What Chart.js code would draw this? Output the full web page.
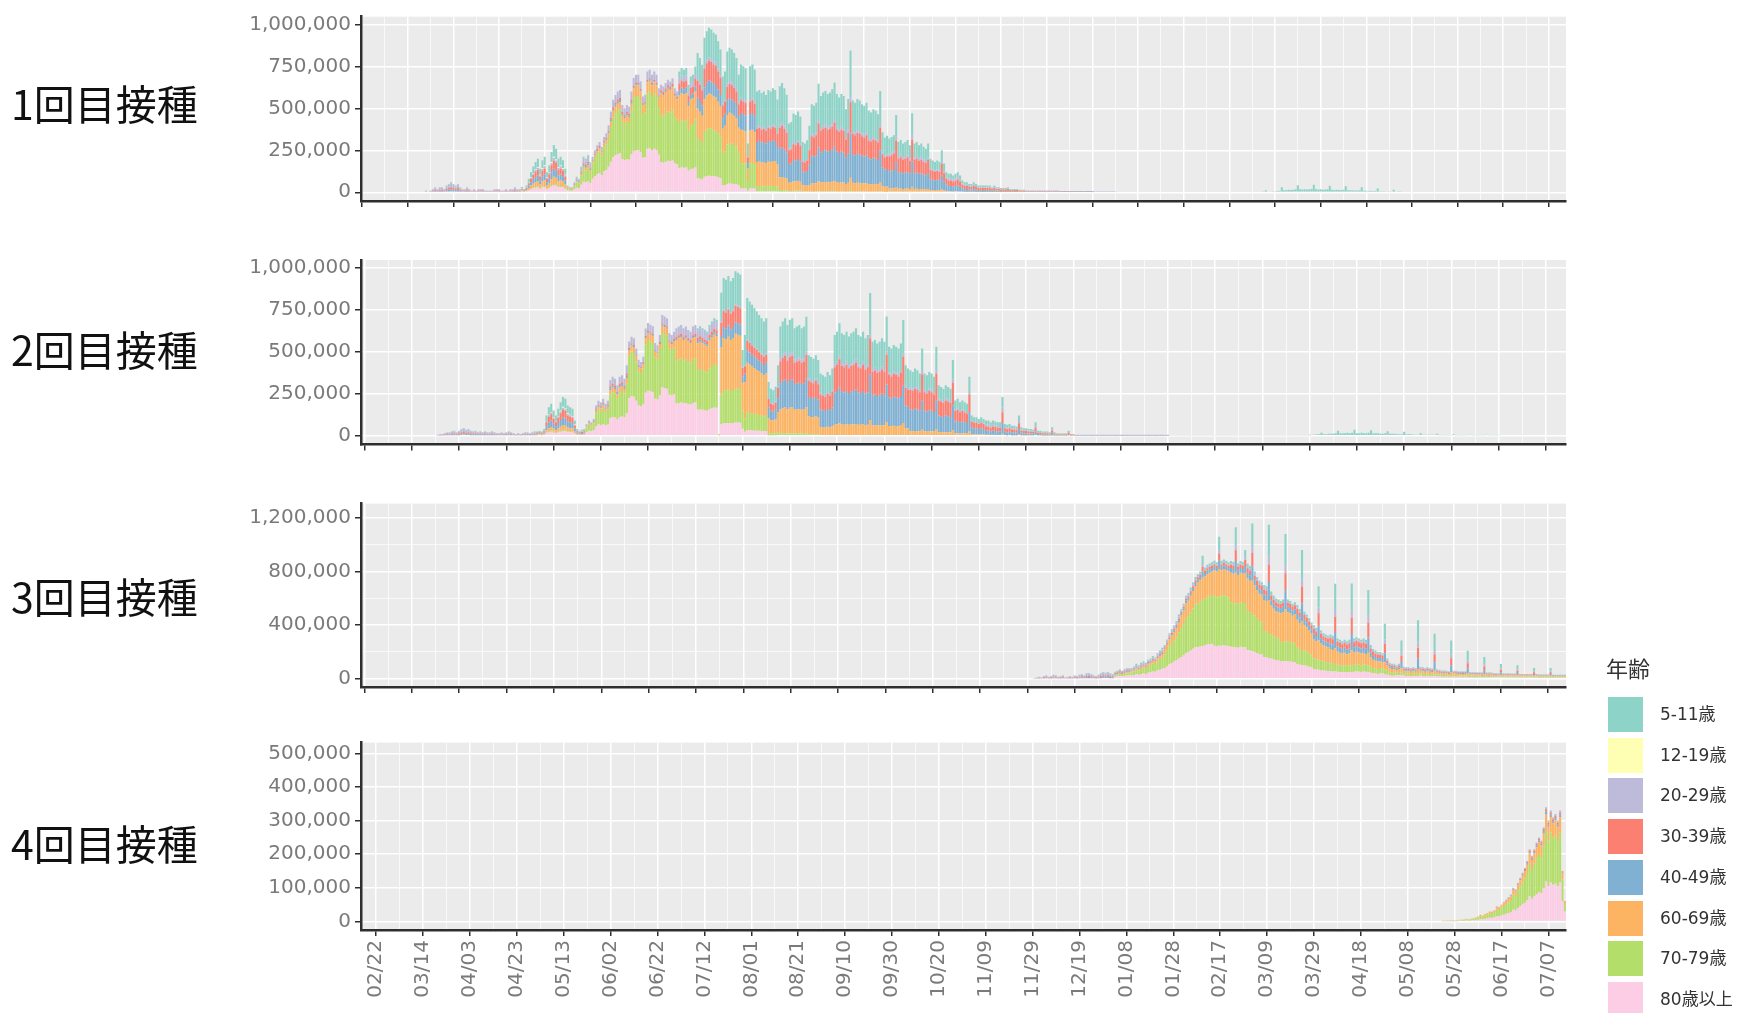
<!DOCTYPE html>
<html lang="ja">
<head>
<meta charset="utf-8">
<title>年齢別 新型コロナワクチン接種回数（日別）</title>
<script src="https://cdn.jsdelivr.net/npm/chart.js@4.4.1/dist/chart.umd.min.js"></script>
<style>
  html, body { margin: 0; padding: 0; background: #fff; }
  body { position: relative; width: 1743px; height: 1013px; overflow: hidden;
         font-family: "DejaVu Sans", "Noto Sans CJK JP", sans-serif; }
  canvas.panel { position: absolute; left: 0; }
  .dose { position: absolute; left: 11px; font-family: "Noto Sans CJK JP", sans-serif;
          font-size: 41px; line-height: 42px; color: #111; white-space: nowrap; }
  #legend { position: absolute; left: 1606px; top: 652px; color: #333; }
  #legend .title { position: absolute; left: 0; top: 0; font-family: "Noto Sans CJK JP", sans-serif;
                   font-size: 22px; line-height: 30px; white-space: nowrap; }
  #legend .key { position: absolute; left: 2px; width: 35px; height: 35px; }
  #legend .klabel { position: absolute; left: 54px; font-size: 17px; line-height: 35px; white-space: nowrap;
                    font-family: "DejaVu Sans", "Noto Sans CJK JP", sans-serif; }
</style>
</head>
<body>
<canvas id="c1" class="panel" width="1743" height="232" style="top:0px"></canvas>
<canvas id="c2" class="panel" width="1743" height="236" style="top:236px"></canvas>
<canvas id="c3" class="panel" width="1743" height="236" style="top:478px"></canvas>
<canvas id="c4" class="panel" width="1743" height="297" style="top:716px"></canvas>
<div id="titles"></div>
<div id="legend"></div>
<script>
// ---- labels and styling constants -------------------------------------
const AXIS_ORIGIN = '2021-02-22';
const AGE_GROUPS = ['5-11歳', '12-19歳', '20-29歳', '30-39歳', '40-49歳', '60-69歳', '70-79歳', '80歳以上'];
const AGE_COLORS = ['#8DD3C7', '#FFFFB3', '#BEBADA', '#FB8072', '#80B1D3', '#FDB462', '#B3DE69', '#FCCDE5'];
const DOSE_TITLES = ['1回目接種', '2回目接種', '3回目接種', '4回目接種'];
const LEGEND_TITLE = '年齢';
const X_TICK_LABELS = ['02/22', '03/14', '04/03', '04/23', '05/13', '06/02', '06/22', '07/12', '08/01', '08/21',
  '09/10', '09/30', '10/20', '11/09', '11/29', '12/19', '01/08', '01/28', '02/17', '03/09',
  '03/29', '04/18', '05/08', '05/28', '06/17', '07/07'];
const Y_TICKS_DOSE1 = [0, 250000, 500000, 750000, 1000000];
const Y_TICKS_DOSE2 = [0, 250000, 500000, 750000, 1000000];
const Y_TICKS_DOSE3 = [0, 400000, 800000, 1200000];
const Y_TICKS_DOSE4 = [0, 100000, 200000, 300000, 400000, 500000];

// ---- daily doses by age group, in thousands ------------------------------
// 1st dose, daily series beginning 2021-03-22
const dose1Start = '2021-03-22';
const dose1_80plus = [1,0,1,2,3,2,3,3,2,4,5,6,5,4,5,3,2,2,3,2,1,2,1,2,2,2,1,1,1,1,2,2,2,1,1,2,1,2,2,3,2,2,
  5,3,6,12,18,23,27,30,21,29,32,18,24,36,42,39,30,32,29,21,
  12,9,9,18,27,24,45,63,60,66,54,
  80,95,106,114,103,125,133,152,182,209,220,228,232,198,190,198,194,228,
  245,252,252,238,205,209,259,263,252,259,252,223,
  179,176,182,188,185,190,174,168,
  144,148,146,148,128,138,140,150,
  83,80,76,92,96,98,97,95,94,90,85,
  41,43,50,52,51,50,48,42,
  23,23,22,9,23,23,22,
  6,6,6,6,6,6,6,6,6,6];
const dose1_70s = [0,0,0,0,0,0,0,0,0,0,0,0,0,0,0,0,0,0,0,0,0,0,0,0,0,0,0,0,0,0,0,0,0,0,0,0,0,0,0,0,0,0,
  1,1,1,2,4,5,5,6,4,6,6,4,5,7,8,8,6,6,6,4,
  14,11,11,21,32,28,53,74,70,77,63,
  90,108,120,129,116,142,151,172,206,237,249,258,262,224,215,224,219,258,
  313,322,322,304,262,267,331,336,322,331,322,285,
  282,277,286,295,290,299,273,264,
  274,281,277,281,243,262,266,285,
  241,232,220,267,278,284,281,276,273,261,247,
  193,202,235,241,238,232,224,196,
  152,150,148,58,150,152,146,
  30,31,30,30,29,31,30,31,31,28,
  13,13,12,12,8,8,9,9,10,9,6,6,6,
  4,5,5,5,7,6,6,6,6,6,6,7,6,6,6,6,5,6,9,6,5,6,6,5,5,5,5,5,5,5,5,6,4,3,3];
const dose1_60s = [0,0,0,0,0,0,0,0,0,0,0,0,0,0,0,0,0,0,0,0,0,0,0,0,0,0,0,0,0,0,0,0,0,0,0,0,0,0,0,0,0,0,
  5,3,6,12,18,23,27,30,21,29,32,18,24,36,42,39,30,32,29,21,
  3,2,2,5,7,6,12,17,16,18,14,
  15,18,20,21,19,23,25,28,34,39,41,42,43,36,35,36,36,42,
  61,63,63,59,51,52,65,66,63,65,63,56,
  128,126,130,134,132,136,124,120,
  158,163,161,163,141,152,154,165,
  174,168,160,193,202,206,204,200,197,189,179,
  145,151,176,181,179,174,168,147,
  198,195,192,75,195,198,190,
  144,146,142,144,139,146,144,149,146,132,
  76,78,74,70,49,50,56,55,58,54,36,35,37,
  36,48,47,49,59,52,54,55,53,54,56,59,53,51,53,52,45,50,77,50,49,50,50,48,47,49,44,43,45,44,42,55,32,30,31,
  22,23,24,32,21,22,20,21,22,20,33,20,21,20,20,19,18,20,14,13,13,13,13,18,12,8,
  6,6,5,6,6,5,4,3,3,3,3,3,3,2,2,2,2,2,2,2,2,2,2,1,1,1,2,1,1,1,1,1,1,1];
const dose1_40s = [2,0,2,4,6,4,6,6,4,8,10,12,10,8,10,6,4,4,6,4,2,4,2,4,4,4,2,2,2,2,4,4,4,2,2,4,2,4,4,6,4,4,
  5,3,7,14,20,26,31,34,24,32,36,20,27,41,48,44,34,36,32,24,
  2,2,2,3,5,4,8,11,10,11,9,
  4,5,6,6,5,7,7,8,10,11,12,12,12,10,10,10,10,12,
  7,7,7,7,6,6,7,7,7,7,7,6,
  6,6,7,7,7,7,6,6,
  29,30,29,30,26,28,28,30,
  66,64,61,74,77,78,78,76,75,72,68,
  69,72,84,86,85,83,80,70,
  99,98,96,38,98,99,95,
  120,122,118,120,116,122,120,124,122,110,
  170,176,167,157,111,113,127,124,130,122,81,78,84,
  124,164,161,167,202,180,186,189,183,186,192,205,183,177,183,180,155,174,264,171,167,174,171,164,161,167,152,149,155,152,146,189,112,102,105,
  102,106,109,147,96,99,93,96,99,90,150,93,96,90,93,86,83,93,64,61,58,61,58,80,54,38,
  31,31,28,31,34,28,20,17,17,14,14,17,14,11,11,11,11,11,11,8,11,8,8,7,7,7,8,6,6,6,6,4,4,4,
  3,3,3,3,3,3,3,3,3,3,3,3,3,3,3,2,2,2,2,2,2,2,2,2,2,2,2,2,2,2];
const dose1_30s = [2,0,2,4,6,4,6,6,4,8,10,12,10,8,10,6,4,4,6,4,2,4,2,4,4,4,2,2,2,2,4,4,4,2,2,4,2,4,4,6,4,4,
  5,3,7,14,20,26,31,34,24,32,36,20,27,41,48,44,34,36,32,24,
  2,1,1,2,4,3,6,8,8,9,7,
  4,5,6,6,5,7,7,8,10,11,12,12,12,10,10,10,10,12,
  7,7,7,7,6,6,7,7,7,7,7,6,
  13,13,13,13,13,14,12,12,
  43,44,44,44,38,41,42,45,
  100,96,91,110,115,118,116,114,113,108,102,
  69,72,84,86,85,83,80,70,
  76,75,74,29,75,76,73,
  78,79,77,78,75,79,78,81,79,72,
  126,130,124,116,82,84,94,92,96,90,60,58,62,
  88,117,114,119,143,128,132,134,130,132,136,145,130,125,130,128,110,123,187,121,119,123,121,117,114,119,108,106,110,108,103,134,79,73,75,
  90,92,95,129,84,87,81,84,87,78,132,81,84,78,81,76,73,81,56,53,50,53,50,70,48,34,
  33,33,30,33,36,30,21,18,18,15,15,18,15,12,12,12,12,12,12,9,12,9,9,8,8,8,9,6,6,6,6,5,5,5,
  3,3,3,3,3,3,3,3,3,3,3,3,3,3,3,2,2,2,2,2,2,2,2,2,2,2,2,2,2,2];
const dose1_20s = [4,0,4,8,12,8,12,12,8,16,20,24,20,16,20,12,8,8,12,8,4,8,4,8,8,8,4,4,4,4,8,8,8,4,4,8,4,8,8,12,8,8,
  2,1,2,5,7,9,11,12,8,11,13,7,10,14,17,16,12,13,11,8,
  5,4,4,8,12,10,20,27,26,29,23,
  17,20,22,24,22,26,28,32,38,44,46,48,49,42,40,42,41,48,
  48,49,49,46,40,41,50,51,49,50,49,43,
  32,32,33,34,33,34,31,30,
  29,30,29,30,26,28,28,30,
  17,16,15,18,19,20,19,19,19,18,17,
  14,14,17,17,17,17,16,14,
  15,15,15,6,15,15,15,
  12,12,12,12,12,12,12,12,12,11,
  19,20,19,17,12,13,14,14,14,14,9,9,9,
  12,16,16,16,20,17,18,18,18,18,19,20,18,17,18,17,15,17,26,17,16,17,17,16,16,16,15,14,15,15,14,18,11,10,10,
  16,17,17,23,15,16,15,15,16,14,24,15,15,14,15,14,13,15,10,10,9,10,9,13,9,6,
  13,13,12,13,14,12,8,7,7,6,6,7,6,5,5,5,5,5,5,4,5,4,4,3,3,3,4,2,2,2,2,2,2,2,
  4,4,4,4,4,4,4,4,4,4,4,4,4,4,4,2,2,2,2,2,2,2,2,2,2,2,2,2,2,2,2,2,2,2,2,2,2,2,2,2];
const dose1_12to19 = [0,0,0,0,0,0,0,0,0,0,0,0,0,0,0,0,0,0,0,0,0,0,0,0,0,0,0,0,0,0,0,0,0,0,0,0,0,0,0,0,0,0,
  1,0,1,2,2,3,4,4,3,4,4,2,3,5,6,5,4,4,4,3];
const dose1_5to11 = [1,0,1,2,3,2,3,3,2,4,5,6,5,4,5,3,2,2,3,2,1,2,1,2,2,2,1,1,1,1,2,2,2,1,1,2,1,2,2,3,2,2,
  8,5,10,20,30,38,45,50,35,48,52,30,40,60,70,65,50,52,48,35,
  2,2,2,3,5,4,8,11,10,11,9,
  0,0,0,0,0,0,0,0,0,0,0,0,0,0,0,0,0,0,0,0,0,0,0,0,0,0,0,0,0,0,0,0,0,0,0,0,0,0,
  43,44,44,44,38,41,42,45,
  149,144,137,166,173,176,175,171,169,162,153,
  159,166,193,198,196,191,184,161,
  198,195,192,75,195,198,190,
  210,214,207,210,203,214,210,217,214,193,
  227,234,223,209,148,151,169,166,173,162,108,104,112,
  132,175,172,178,215,191,198,201,195,198,205,218,195,188,195,191,165,185,281,182,178,185,182,175,172,178,162,158,165,162,155,201,119,109,112,
  90,92,95,129,84,87,81,84,87,78,132,81,84,78,81,76,73,81,56,53,50,53,50,70,48,34,
  27,27,25,27,30,25,17,15,15,12,12,15,12,10,10,10,10,10,10,7,10,7,7,6,6,6,7,5,5,5,5,3,3,3];
const dose1_5to11_2022Start = '2022-03-24';
const dose1_5to11_2022 = [3,12,5,5,6,6,8,9,30,12,14,15,14,15,18,42,18,17,18,17,18,20,45,18,17,18,15,17,18,
  39,15,14,15,14,14,15,36,12,12,12,11,11,12,30,9,9,8,9,8,9,23,6,6,6,5,6,5,15,5,3,3];

// 2nd dose, daily series beginning 2021-03-24
const dose2Start = '2021-03-24';
const dose2_80plus = [0,1,1,1,2,2,2,3,3,2,3,4,5,4,4,3,3,3,2,3,2,3,2,2,3,2,2,2,2,2,2,3,2,2,1,2,1,2,2,2,2,2,3,
  3,4,3,5,14,20,23,18,14,19,24,28,26,22,20,19,11,5,4,4,5,
  22,29,26,32,58,67,64,70,61,67,106,112,109,96,112,115,109,134,
  224,236,232,208,180,176,188,256,268,264,260,220,216,240,288,284,280,244,240,248,
  192,195,198,192,195,189,186,195,198,
  154,156,154,151,149,158,163,168,166,2,
  68,75,74,76,74,75,78,78,77,41,
  24,33,32,31,30,30,29,28,27,28,
  3,3,3,3,4];
const dose2_70s = [0,0,0,0,0,0,0,0,0,0,0,0,0,0,0,0,0,0,0,0,0,0,0,0,0,0,0,0,0,0,0,0,0,0,0,0,0,0,0,0,0,0,0,
  1,1,1,1,4,5,6,5,4,5,6,7,7,5,5,5,3,1,1,1,1,
  29,38,34,42,76,88,84,92,80,88,139,147,143,126,147,151,143,176,
  252,266,261,234,203,198,212,288,302,297,293,248,243,270,324,320,315,275,270,279,
  256,260,264,256,260,252,248,260,264,
  237,241,237,233,229,244,252,259,255,4,
  179,197,195,200,193,197,206,204,202,107,
  78,107,104,101,99,96,94,91,88,91,
  13,11,11,12,17,
  13,14,14,13,14,14,13,13,13,13,13,14,10,9,9,10,9];
const dose2_60s = [0,0,0,0,0,0,0,0,0,0,0,0,0,0,0,0,0,0,0,0,0,0,0,0,0,0,0,0,0,0,0,0,0,0,0,0,0,0,0,0,0,0,0,
  3,4,3,5,14,20,23,18,14,19,24,28,26,22,20,19,11,5,4,4,5,
  6,7,6,8,14,17,16,18,15,17,26,28,27,24,28,29,27,34,
  34,35,35,31,27,26,28,38,40,40,39,33,32,36,43,43,42,37,36,37,
  122,124,125,122,124,120,118,124,125,
  160,163,160,158,155,165,170,175,173,3,
  281,310,307,314,304,310,323,320,317,168,
  216,295,288,281,274,266,259,252,245,252,
  90,78,76,81,118,
  143,150,154,145,152,154,141,143,145,141,143,156,106,103,101,106,99,
  52,50,49,53,50,56,
  66,68,74,67,66,68,65,67,68,70,66,65,68,64,66,94,62,63,61,62,64,62,78,58,57,59,58,57,61,76,46,44,
  27,27,28,27,26,36,26,25,27,26,25,37,21,20,20,21,20,20,32,15,15,14,15,14,13,25,8,8,8,7,8,7,
  5,5,4,5,4,4,4,12,4,3,4,3,3,3,6,3,2,2,2,2,2,4,2,2,1,1,1,1,3,1,1,1,1,1,1,2,1,1];
const dose2_40s = [0,1,2,2,3,4,4,5,6,4,6,8,9,7,8,6,5,6,4,5,4,5,4,4,5,4,3,3,4,3,4,5,4,3,2,3,2,3,4,4,3,4,5,
  5,6,5,8,24,34,38,30,24,32,40,46,44,36,34,32,18,8,6,7,8,
  2,3,2,3,5,6,6,7,6,6,10,11,10,9,11,11,10,13,
  6,6,6,5,5,4,5,6,7,7,7,6,5,6,7,7,7,6,6,6,
  6,7,7,6,7,6,6,7,7,
  13,13,13,13,12,13,14,14,14,0,
  60,66,65,67,64,66,69,68,67,36,
  54,74,72,70,68,67,65,63,61,63,
  64,56,54,58,84,
  156,163,168,158,166,168,154,156,158,154,156,170,115,113,110,115,108,
  104,101,98,106,101,112,
  192,198,214,195,192,198,189,195,198,205,192,189,198,186,192,272,179,182,176,179,186,179,227,170,166,173,170,166,176,221,134,128,
  129,125,132,129,122,172,122,119,125,122,116,175,99,96,92,99,96,92,149,69,73,66,69,66,63,116,40,36,36,33,36,33,
  25,25,22,25,24,22,22,64,20,18,20,17,17,15,34,14,13,13,11,11,10,22,8,8,7,7,7,6,14,6,4,4,4,4,4,8,3,3,
  1,1,1,1,1,1,1,1,1,1,1,1,1,1,1,1,1,1,1,1,1,1,1,1,1,1,1,1,1,1,1,1,1,1,1,1,1,1,1,1];
const dose2_30s = [0,1,2,2,3,4,4,5,6,4,6,8,9,7,8,6,5,6,4,5,4,5,4,4,5,4,3,3,4,3,4,5,4,3,2,3,2,3,4,4,3,4,5,
  5,6,5,8,24,34,38,30,24,32,40,46,44,36,34,32,18,8,6,7,8,
  2,3,2,3,5,6,6,7,6,6,10,11,10,9,11,11,10,13,
  6,6,6,5,5,4,5,6,7,7,7,6,5,6,7,7,7,6,6,6,
  13,13,13,13,13,13,12,13,13,
  19,20,19,19,19,20,20,21,21,0,
  85,94,93,95,92,94,98,97,96,51,
  42,57,56,55,53,52,50,49,48,49,
  48,42,41,44,63,
  130,136,140,132,138,140,128,130,132,128,130,142,96,94,92,96,90,
  89,86,84,91,86,96,
  150,155,168,153,150,155,148,153,155,160,150,148,155,145,150,213,140,143,138,140,145,140,178,133,130,135,133,130,138,173,105,100,
  117,114,120,117,111,156,111,108,114,111,105,159,90,87,84,90,87,84,135,63,66,60,63,60,57,105,36,33,33,30,33,30,
  25,25,22,25,24,22,22,64,20,18,20,17,17,15,34,14,13,13,11,11,10,22,8,8,7,7,7,6,14,6,4,4,4,4,4,8,3,3,
  1,1,1,1,1,1,1,1,1,1,1,1,1,1,1,1,1,1,1,1,1,1,1,1,1,1,1,1,1,1,1,1,1,1,1,1,1,1,1,1];
const dose2_20s = [0,2,4,4,6,8,8,10,12,8,12,16,18,14,16,12,10,12,8,10,8,10,8,8,10,8,6,6,8,6,8,10,8,6,4,6,4,6,8,8,6,8,10,
  1,2,1,2,6,9,10,8,6,8,10,12,11,9,9,8,5,2,2,2,2,
  8,11,10,12,22,25,24,26,23,25,40,42,41,36,42,43,41,50,
  39,41,41,36,32,31,33,45,47,46,46,39,38,42,50,50,49,43,42,43,
  51,52,53,51,52,50,50,52,53,
  45,46,45,44,43,46,48,49,48,1,
  9,9,9,10,9,9,10,10,10,5,
  6,8,8,8,8,7,7,7,7,7,
  6,6,5,6,8,
  20,20,21,20,21,21,19,20,20,19,20,21,14,14,14,14,14,
  11,11,11,11,11,12,
  18,19,20,18,18,19,18,18,19,19,18,18,19,17,18,26,17,17,17,17,17,17,21,16,16,16,16,16,17,21,13,12,
  16,15,16,16,15,21,15,14,15,15,14,21,12,12,11,12,12,11,18,8,9,8,8,8,8,14,5,4,4,4,4,4,
  11,11,10,11,10,10,10,28,8,8,8,7,7,7,14,6,5,5,5,5,4,10,4,4,3,3,3,2,6,2,2,2,2,2,2,4,1,1,
  3,3,3,3,3,3,3,3,3,3,3,3,3,3,3,3,3,3,3,3,3,3,3,3,3,3,3,3,3,3,3,3,3,3,3,3,3,3,3,3,3,3,3,3,3,3,3,3,3,3,
  2,2,2,2,2,2,2,2,2,2,2,2,2,2,2,2,2,2,2,2,2,2,2,2,2,2,2,2,2,2,2,2,2,2,2,2,2,2,2,2,2,2,2,2,2,2,2,2,2,2];
const dose2_12to19 = [0,0,0,0,0,0,0,0,0,0,0,0,0,0,0,0,0,0,0,0,0,0,0,0,0,0,0,0,0,0,0,0,0,0,0,0,0,0,0,0,0,0,0,
  0,0,0,1,2,3,4,3,2,3,4,5,4,4,3,3,2,1,0,1,1];
const dose2_5to11 = [0,1,1,1,2,2,2,3,3,2,3,4,5,4,4,3,3,3,2,3,2,3,2,2,3,2,2,2,2,2,2,3,2,2,1,2,1,2,2,2,2,2,3,
  7,7,7,10,32,45,48,38,32,42,52,58,58,46,45,42,22,10,7,9,10,
  0,0,0,0,0,0,0,0,0,0,0,0,0,0,0,0,0,0,0,0,0,0,0,0,0,0,0,0,0,0,0,0,0,0,0,0,0,0,0,0,0,0,0,0,0,0,0,
  13,13,13,13,12,13,14,14,14,0,
  170,188,186,190,184,188,196,194,192,102,
  180,246,240,234,228,222,216,210,204,210,
  96,84,81,87,126,
  189,197,203,191,200,203,186,189,191,186,189,206,139,136,133,139,131,
  115,112,109,118,112,124,
  174,180,194,177,174,180,171,177,180,186,174,171,180,168,174,245,162,165,158,162,168,162,206,153,151,157,153,151,158,199,122,116,
  101,99,104,101,96,135,96,94,99,96,91,138,78,75,73,78,75,73,117,55,57,52,55,52,49,91,31,29,29,26,29,26,
  24,24,22,24,23,22,22,62,18,18,18,16,16,15,32,13,12,12,11,11,9,22,8,8,7,7,7,5,13,5,4,4,4,4,4,8,2,2];
const dose2_5to11_2022Start = '2022-03-29';
const dose2_5to11_2022 = [3,5,6,8,9,18,8,9,11,12,12,14,30,14,15,15,17,15,17,36,15,15,17,15,15,17,33,14,
  14,14,12,12,14,27,11,11,11,9,9,9,23,8,8,8,6,6,6,15,5,5,5,5,5,5,12,3,3,3,3,3,3,9,2,
  2,2,2,2,2,6,2,2,2,2,2,2,5,2,2,2,2,2];

// 3rd dose, daily series beginning 2021-12-02
const dose3Start = '2021-12-02';
const dose3_80plus = [1,1,2,1,2,3,2,2,3,3,2,2,3,
  1,2,2,2,3,2,3,4,3,4,4,4,3,2,3,4,5,5,5,4,4,
  15,18,21,18,21,24,24,24,27,33,30,36,39,36,45,48,54,51,61,67,74,
  80,93,109,118,128,138,154,161,174,192,198,211,223,236,234,240,245,249,255,258,261,
  246,244,246,246,249,246,244,238,235,234,232,238,235,235,215,210,205,200,190,183,180,
  161,159,154,150,143,138,136,128,130,130,130,128,123,125,110,104,102,100,96,90,84,
  72,68,67,65,61,59,58,56,54,53,51,49,48,49,48,49,50,51,53,51,49,54,52,49,45,40,38,36,
  40,38,34,30,24,22,22,25,28,26,23,21,21,20,21,20,21,23,21,20,21,20,19,19,18,16,15,15,
  15,14,15,15,15,14,14,14,14,13,13,13,12,12,12,11,11,11,11,11,11,11,10,10,10,10,10,10,
  10,10,9,9,9,9,9,9,9,8,9,8,8,8,8,8,8,8,8,8,8,8,7];
const dose3_70s = [0,0,0,0,0,0,0,0,0,0,0,0,0,
  0,0,0,0,0,0,0,0,0,0,0,0,0,0,0,0,0,0,0,0,0,
  10,12,14,12,14,16,16,24,27,33,30,36,39,36,50,54,61,58,68,76,83,
  100,116,136,148,160,172,192,218,235,260,269,286,302,319,328,336,342,349,357,361,365,
  370,365,370,370,374,370,365,334,331,329,327,334,331,331,292,286,279,272,258,248,245,
  196,193,188,182,174,168,165,145,148,148,148,145,140,143,121,114,112,110,106,99,92,
  80,76,74,72,68,66,64,59,58,56,54,52,50,52,50,52,53,54,56,54,52,54,52,49,45,40,38,36,
  40,38,34,30,24,22,22,20,22,21,18,17,17,16,17,16,17,18,17,16,17,16,15,15,14,13,12,12,
  12,11,12,12,12,11,11,11,11,10,10,10,10,10,10,9,9,9,9,9,8,8,8,8,8,8,8,8,
  8,8,7,7,7,7,7,7,7,7,7,7,7,7,7,7,6,6,6,6,6,6,6];
const dose3_60s = [0,0,0,0,0,0,0,0,0,0,0,0,0,
  0,0,0,0,0,0,0,0,0,0,0,0,0,0,0,0,0,0,0,0,0,
  5,6,7,6,7,8,8,8,9,11,10,12,13,12,17,18,20,19,23,25,28,
  38,44,51,56,60,65,72,94,101,112,115,122,130,137,156,160,168,166,170,172,174,
  194,191,203,194,196,194,191,220,218,229,215,220,218,223,241,235,247,224,213,204,202,
  231,228,245,215,205,198,195,215,218,243,218,215,207,211,209,198,217,190,182,171,160,
  140,133,146,126,119,116,112,106,102,119,96,93,90,93,84,87,110,90,93,90,87,84,81,96,70,62,59,56,
  50,48,55,38,30,28,28,20,22,30,18,17,17,16,17,16,35,18,17,16,17,16,15,28,14,13,12,12,
  12,11,23,12,12,11,11,11,11,18,10,10,10,10,10,9,15,9,9,9,8,8,8,12,8,8,8,8,
  8,8,10,7,7,7,7,7,7,9,7,7,7,7,7,7,8,6,6,6,6,6,6];
const dose3_40s = [1,2,3,2,4,5,3,4,6,5,3,4,5,
  2,3,4,3,5,4,6,7,5,8,8,7,5,4,6,8,10,9,10,8,7,
  5,6,7,6,7,8,8,4,5,6,5,6,7,6,6,6,7,6,8,8,9,
  8,9,10,11,12,13,14,16,17,19,19,20,22,23,23,24,45,25,26,26,26,
  26,26,62,26,27,26,26,35,35,88,34,35,35,53,43,42,109,40,38,37,36,
  42,41,136,39,37,36,35,41,41,139,41,41,39,40,44,42,131,40,38,36,34,
  44,42,105,40,37,36,35,43,42,120,39,38,36,38,36,38,121,39,40,39,38,39,38,113,33,29,27,26,
  24,23,68,18,14,13,13,10,11,47,9,9,9,8,9,8,79,9,9,8,9,8,8,60,7,7,6,6,
  6,6,51,6,6,6,6,6,6,37,5,5,5,5,5,5,28,5,5,5,4,4,4,18,4,4,4,4,
  4,4,17,4,4,4,4,4,4,12,4,3,3,3,3,3,13,3,3,3,3,3,3];
const dose3_30s = [1,2,3,2,4,5,3,4,6,5,3,4,5,
  2,3,4,3,5,4,6,7,5,8,8,7,5,4,6,8,10,9,10,8,7,
  5,6,7,6,7,8,8,4,5,6,5,6,7,6,6,6,7,6,8,8,9,
  8,9,10,11,12,13,14,10,11,12,13,14,14,15,16,16,37,17,17,17,17,
  18,17,54,18,18,18,17,26,26,79,26,26,26,44,34,34,101,32,30,29,29,
  35,35,130,33,31,30,30,29,30,128,30,29,28,29,39,36,126,35,34,32,29,
  36,34,97,32,31,30,29,40,38,117,36,35,34,35,36,38,121,39,40,39,38,39,38,113,33,29,27,26,
  24,23,68,18,14,13,13,10,11,47,9,9,9,8,9,8,79,9,9,8,9,8,8,60,7,7,6,6,
  6,6,51,6,6,6,6,6,6,37,5,5,5,5,5,5,28,5,5,5,4,4,4,18,4,4,4,4,
  4,4,17,4,4,4,4,4,4,12,4,3,3,3,3,3,13,3,3,3,3,3,3];
const dose3_20s = [2,4,6,4,8,10,6,8,12,10,6,8,10,
  4,6,8,6,10,8,12,14,10,16,16,14,10,8,12,16,20,18,20,16,14,
  8,9,11,9,11,12,12,10,11,13,12,14,16,14,10,11,12,11,13,15,16,
  10,12,14,15,16,17,19,10,11,12,13,14,14,15,8,8,19,8,9,9,9,
  9,9,27,9,9,9,9,9,9,36,9,9,9,18,17,17,50,16,15,15,14,
  14,14,61,13,12,12,12,6,6,55,6,6,6,6,11,10,55,10,10,9,8,
  12,11,43,11,10,10,10,10,10,49,9,9,8,9,11,12,54,12,12,12,12,12,12,50,10,9,8,8,
  10,10,33,8,6,6,6,8,9,26,7,7,7,6,7,6,42,7,7,6,7,6,6,32,6,5,5,5,
  5,4,28,5,5,4,4,4,4,20,4,4,4,4,4,4,16,4,4,4,4,4,3,10,3,3,3,3,
  3,3,9,3,3,3,3,3,3,8,3,3,3,3,3,3,7,2,2,2,2,2,2];
const dose3_12to19 = [];
const dose3_5to11 = [0,1,1,1,2,2,1,2,3,2,1,2,2,
  1,1,2,1,2,2,3,3,2,4,4,3,2,2,3,4,5,4,5,4,3,
  3,3,4,3,4,4,4,6,7,9,8,10,10,10,7,8,9,8,10,11,12,
  8,9,10,11,12,13,14,10,11,12,13,14,14,15,16,16,63,17,17,17,17,
  18,17,99,18,18,18,17,18,17,136,17,18,17,58,17,17,169,16,15,15,14,
  21,21,236,20,19,18,18,17,18,238,18,17,17,17,17,16,218,15,14,14,13,
  16,15,159,14,14,13,13,17,16,196,15,15,14,15,14,15,202,15,16,15,15,18,17,192,15,13,13,12,
  12,11,118,9,7,7,7,7,8,88,6,6,6,6,6,6,163,6,6,6,6,6,5,122,5,5,5,5,
  4,4,106,4,4,4,4,4,4,74,3,3,3,3,3,3,55,3,3,3,3,3,3,34,3,3,3,3,
  2,2,31,2,2,2,2,2,2,23,2,2,2,2,2,2,24,2,2,2,2,2,2];

// 4th dose, daily series beginning 2022-05-23
const dose4Start = '2022-05-23';
const dose4_80plus = [1,1,1,1,1,1,1,2,2,2,3,2,3,4,4,5,7,6,8,9,11,11,12,16,15,18,20,23,
  25,28,35,33,40,46,51,56,63,75,68,75,82,88,84,98,119,105,116,109,112,105,116,60,30];
const dose4_70s = [1,1,1,1,2,1,2,2,2,3,4,3,4,4,5,7,9,8,10,11,13,14,16,20,19,23,26,29,
  32,36,45,43,52,59,65,72,81,97,88,97,106,113,108,126,153,135,149,140,144,135,149,65,22];
const dose4_60s = [0,0,1,1,1,1,1,1,1,1,1,2,1,2,3,3,4,4,4,5,6,4,5,6,6,7,8,9,
  10,11,14,13,16,18,20,22,25,30,27,30,33,35,34,39,48,42,46,43,45,42,46,20,6];
const dose4_40s = [0,0,0,0,0,0,0,0,0,0,0,0,0,0,0,0,0,0,0,0,0,0,0,1,1,1,1,1,
  1,2,2,2,2,3,3,3,4,4,4,5,5,5,5,6,7,6,7,6,6,6,7,2,1];
const dose4_30s = [0,0,0,0,0,0,0,0,0,0,0,0,0,0,0,0,0,0,0,0,0,0,0,1,1,1,1,1,
  2,1,2,2,2,2,3,4,4,5,4,4,5,5,5,6,7,6,6,6,7,6,6,2,1];
const dose4_20s = [0,0,0,0,0,0,0,0,0,0,0,0,0,0,0,0,0,0,0,0,0,1,1,1,0,0,2,2,
  2,2,2,2,3,2,3,3,3,4,4,4,4,4,4,5,6,6,6,6,6,6,6,1,0];
const dose4_12to19 = [];
const dose4_5to11 = [];

// ---- date helpers -------------------------------------------------------
const DAY_MS = 86400000;
function isoToUtc(iso) { const [y, m, d] = iso.split('-').map(Number); return Date.UTC(y, m - 1, d); }
const ORIGIN_MS = isoToUtc(AXIS_ORIGIN);
const dayOffset = iso => Math.round((isoToUtc(iso) - ORIGIN_MS) / DAY_MS);
const isoOfOffset = off => new Date(ORIGIN_MS + off * DAY_MS).toISOString().slice(0, 10);

// place one or more dated runs of values onto a panel's day axis
function placeSeries(runs, lead, days) {
  const out = new Array(days).fill(null);
  runs.forEach(([start, values]) => {
    const first = dayOffset(start) + lead;
    values.forEach((v, k) => {
      const i = first + k;
      if (i >= 0 && i < days) out[i] = v * 1000;
    });
  });
  return out;
}

// age groups in legend order: 5-11, 12-19, 20-29, 30-39, 40-49, 60-69, 70-79, 80+
const PANELS = [
  { canvas: 'c1', padTop: 16.7, xHeight: 31, lead: 0, days: 528, yMin: -52000, yMax: 1046000,
    yTicks: Y_TICKS_DOSE1, dateLabels: false,
    runs: [
      [[dose1Start, dose1_5to11], [dose1_5to11_2022Start, dose1_5to11_2022]],
      [[dose1Start, dose1_12to19]], [[dose1Start, dose1_20s]], [[dose1Start, dose1_30s]],
      [[dose1Start, dose1_40s]], [[dose1Start, dose1_60s]], [[dose1Start, dose1_70s]], [[dose1Start, dose1_80plus]]
    ] },
  { canvas: 'c2', padTop: 24, xHeight: 27.4, lead: 1, days: 510, yMin: -53000, yMax: 1047000,
    yTicks: Y_TICKS_DOSE2, dateLabels: false,
    runs: [
      [[dose2Start, dose2_5to11], [dose2_5to11_2022Start, dose2_5to11_2022]],
      [[dose2Start, dose2_12to19]], [[dose2Start, dose2_20s]], [[dose2Start, dose2_30s]],
      [[dose2Start, dose2_40s]], [[dose2Start, dose2_60s]], [[dose2Start, dose2_70s]], [[dose2Start, dose2_80plus]]
    ] },
  { canvas: 'c3', padTop: 25.6, xHeight: 27, lead: 1, days: 509, yMin: -62000, yMax: 1308000,
    yTicks: Y_TICKS_DOSE3, dateLabels: false,
    runs: [
      [[dose3Start, dose3_5to11]], [[dose3Start, dose3_12to19]], [[dose3Start, dose3_20s]], [[dose3Start, dose3_30s]],
      [[dose3Start, dose3_40s]], [[dose3Start, dose3_60s]], [[dose3Start, dose3_70s]], [[dose3Start, dose3_80plus]]
    ] },
  { canvas: 'c4', padTop: 26.6, xHeight: 83, lead: 6, days: 514, yMin: -25300, yMax: 532000,
    yTicks: Y_TICKS_DOSE4, dateLabels: true,
    runs: [
      [[dose4Start, dose4_5to11]], [[dose4Start, dose4_12to19]], [[dose4Start, dose4_20s]], [[dose4Start, dose4_30s]],
      [[dose4Start, dose4_40s]], [[dose4Start, dose4_60s]], [[dose4Start, dose4_70s]], [[dose4Start, dose4_80plus]]
    ] }
];

const panelBackground = {
  id: 'panelBackground',
  beforeDraw(chart) {
    const { ctx, chartArea: a } = chart;
    ctx.save();
    ctx.fillStyle = '#EBEBEB';
    ctx.fillRect(a.left, a.top, a.right - a.left, a.bottom - a.top);
    ctx.restore();
  }
};

const AXIS_TEXT = { family: 'DejaVu Sans', size: 20 };
const AXIS_TEXT_COLOR = '#7a7a7a';
const AXIS_LINE_COLOR = '#2e2e2e';

function buildPanel(p) {
  const labels = [];
  for (let i = 0; i < p.days; i++) labels.push(isoOfOffset(i - p.lead));

  // stack from the oldest group at the bottom to the youngest on top
  const datasets = [];
  for (let g = AGE_GROUPS.length - 1; g >= 0; g--) {
    datasets.push({
      label: AGE_GROUPS[g],
      data: placeSeries(p.runs[g], p.lead, p.days),
      backgroundColor: AGE_COLORS[g],
      borderWidth: 0,
      barPercentage: 0.9,
      categoryPercentage: 1.0
    });
  }

  const dayOf = i => i - p.lead;
  const isMajorX = i => ((dayOf(i) % 20) + 20) % 20 === 0;
  const step = p.yTicks[1] - p.yTicks[0];
  const yGrid = [];
  for (let v = 0; v <= p.yMax; v += step / 2) if (v >= p.yMin) yGrid.push(v);
  const isMajorY = v => p.yTicks.includes(v);

  new Chart(document.getElementById(p.canvas), {
    type: 'bar',
    data: { labels, datasets },
    plugins: [panelBackground],
    options: {
      responsive: false,
      animation: false,
      devicePixelRatio: 1,
      events: [],
      layout: { padding: { left: 0, right: 177, top: p.padTop, bottom: 0 } },
      plugins: { legend: { display: false }, tooltip: { enabled: false } },
      scales: {
        x: {
          type: 'category',
          stacked: true,
          offset: true,
          afterBuildTicks: axis => {
            const t = [];
            for (let i = 0; i < p.days; i++) if (((dayOf(i) % 10) + 10) % 10 === 0) t.push({ value: i });
            axis.ticks = t;
          },
          afterFit: axis => { axis.height = p.xHeight; },
          grid: {
            offset: false,
            color: '#ffffff',
            lineWidth: c => (c.tick && isMajorX(c.tick.value)) ? 1.5 : 0.7,
            drawTicks: true,
            tickLength: 6,
            tickWidth: 1.5,
            tickColor: c => (c.tick && isMajorX(c.tick.value)) ? AXIS_LINE_COLOR : 'rgba(0,0,0,0)'
          },
          border: { display: true, color: AXIS_LINE_COLOR, width: 2.5 },
          ticks: {
            autoSkip: false,
            minRotation: 90,
            maxRotation: 90,
            padding: 4,
            color: AXIS_TEXT_COLOR,
            font: AXIS_TEXT,
            callback: value => {
              if (!p.dateLabels) return '';
              const d = dayOf(value);
              if (d < 0 || d % 20 !== 0) return '';
              return X_TICK_LABELS[d / 20] || '';
            }
          }
        },
        y: {
          type: 'linear',
          stacked: true,
          min: p.yMin,
          max: p.yMax,
          afterBuildTicks: axis => { axis.ticks = yGrid.map(v => ({ value: v })); },
          afterFit: axis => { axis.width = 361; },
          grid: {
            color: '#ffffff',
            lineWidth: c => (c.tick && isMajorY(c.tick.value)) ? 1.5 : 0.7,
            drawTicks: true,
            tickLength: 6,
            tickWidth: 1.5,
            tickColor: c => (c.tick && isMajorY(c.tick.value)) ? AXIS_LINE_COLOR : 'rgba(0,0,0,0)'
          },
          border: { display: true, color: AXIS_LINE_COLOR, width: 2.5 },
          ticks: {
            padding: 4,
            color: AXIS_TEXT_COLOR,
            font: AXIS_TEXT,
            callback: v => isMajorY(v) ? v.toLocaleString('en-US') : ''
          }
        }
      }
    }
  });
}

PANELS.forEach(buildPanel);

// dose titles on the left
const TITLE_CENTERS = [102, 348, 595, 841.5];
const titles = document.getElementById('titles');
DOSE_TITLES.forEach((t, k) => {
  const el = document.createElement('div');
  el.className = 'dose';
  el.textContent = t;
  el.style.top = (TITLE_CENTERS[k] - 21) + 'px';
  titles.appendChild(el);
});

// legend
const legend = document.getElementById('legend');
const lt = document.createElement('div');
lt.className = 'title';
lt.textContent = LEGEND_TITLE;
legend.appendChild(lt);
AGE_GROUPS.forEach((g, k) => {
  const top = 45 + k * 40.7;
  const key = document.createElement('div');
  key.className = 'key';
  key.style.top = top + 'px';
  key.style.background = AGE_COLORS[k];
  legend.appendChild(key);
  const lab = document.createElement('div');
  lab.className = 'klabel';
  lab.style.top = top + 'px';
  lab.textContent = g;
  legend.appendChild(lab);
});
</script>
</body>
</html>
